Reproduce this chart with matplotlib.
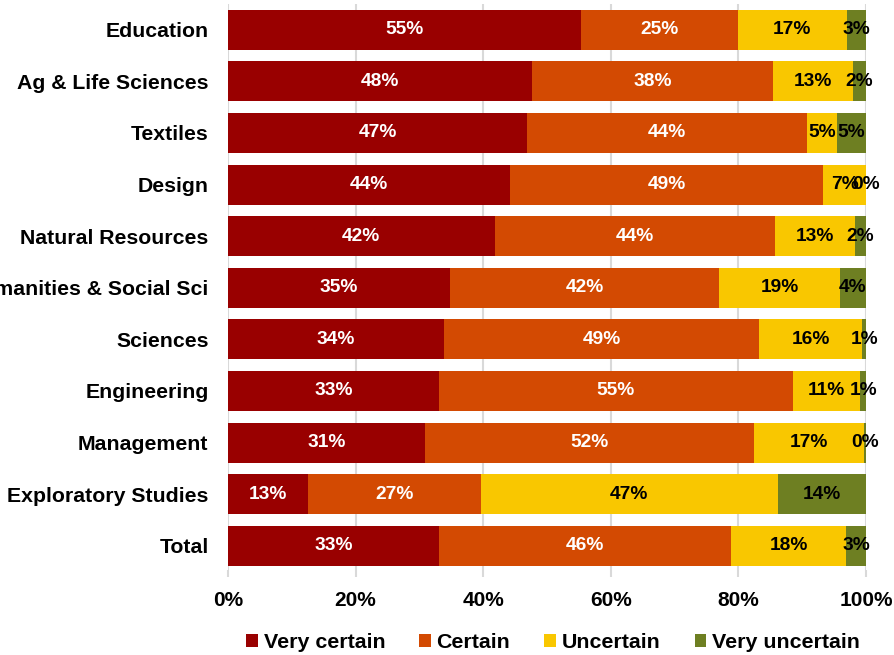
import matplotlib
matplotlib.use("Agg")
import matplotlib.pyplot as plt
import numpy as np

categories = ["Education", "Ag & Life Sciences", "Textiles", "Design",
              "Natural Resources", "Humanities & Social Sci", "Sciences",
              "Engineering", "Management", "Exploratory Studies", "Total"]
very_certain = [55.3, 47.6, 46.9, 44.2, 41.8, 34.8, 33.9, 33.1, 30.9, 12.6, 33.1]
certain = [24.6, 37.8, 43.9, 49.1, 43.9, 42.2, 49.4, 55.4, 51.6, 27.0, 45.8]
uncertain = [17.1, 12.6, 4.6, 6.7, 12.6, 18.9, 16.1, 10.6, 17.2, 46.6, 18.0]
very_uncertain = [3.0, 2.0, 4.6, 0.0, 1.7, 4.1, 0.6, 0.9, 0.3, 13.8, 3.1]
series_names = ["Very certain", "Certain", "Uncertain", "Very uncertain"]
xtick_values = [0, 20, 40, 60, 80, 100]

colors = ["#990000", "#D34A02", "#F9C700", "#6E7F22"]
text_colors = ["white", "white", "black", "black"]

regular = ["Liberation Sans", "DejaVu Sans"]

fig = plt.figure(figsize=(8.94, 6.55), dpi=100)
ax = fig.add_axes([228/894, (655-570)/655, (866-228)/894, 566/655])

y = np.arange(len(categories))
series = [very_certain, certain, uncertain, very_uncertain]
left = np.zeros(len(categories))
for vals, c, tc, name in zip(series, colors, text_colors, series_names):
    vals = np.array(vals)
    ax.barh(y, vals, left=left, height=0.775, color=c, label=name, zorder=2)
    for yi, (l, v) in enumerate(zip(left, vals)):
        ax.text(l + v/2, yi, f"{v:.0f}%", ha="center", va="center",
                color=tc, fontsize=13.8, fontweight="bold", family=regular, zorder=3)
    left = left + vals

ax.set_xlim(0, 100)
ax.set_ylim(10.47, -0.5)
ax.set_yticks(y)
ax.set_yticklabels(categories, fontsize=15.3, fontweight="bold", family=regular)
ax.tick_params(axis="y", length=0, pad=14)
ax.set_xticks(xtick_values)
ax.set_xticklabels([f"{v}%" for v in xtick_values], fontsize=15,
                   fontweight="bold", family=regular)
ax.tick_params(axis="x", length=5, width=1.5, color="#d9d9d9", pad=10)
ax.grid(axis="x", color="#d9d9d9", linewidth=1.5, zorder=0)
ax.set_axisbelow(True)
for s in ax.spines.values():
    s.set_visible(False)

leg = fig.legend(loc="center", bbox_to_anchor=(553/894, 1-643/655), ncol=4,
                 frameon=False, handlelength=0.55, handleheight=0.55,
                 handletextpad=0.25, columnspacing=1.6,
                 prop={"family": regular, "weight": "bold", "size": 15.4})

fig.savefig("out.png", dpi=100)
